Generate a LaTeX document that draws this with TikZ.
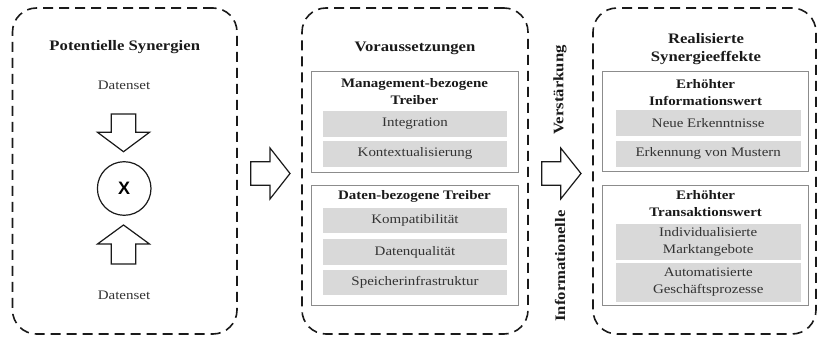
\documentclass[tikz,border=0pt]{standalone}
\usepackage{fontspec}
\setmainfont{Liberation Serif}[FakeStretch=1.15]
\newfontfamily\xfont{Liberation Sans}
\definecolor{itemgray}{HTML}{D9D9D9}
\definecolor{boxgray}{HTML}{8C8C8C}
\definecolor{txtgray}{HTML}{333333}
\definecolor{ttlblack}{HTML}{1A1A1A}
\begin{document}
\begin{tikzpicture}[x=1pt,y=-1pt,
  panel/.style={draw=ttlblack, line width=1.6pt, dash pattern=on 10pt off 6pt, rounded corners=24pt, inner sep=0pt},
  group/.style={draw=boxgray, line width=1pt, inner sep=0pt},
  item/.style={fill=itemgray, inner sep=0pt, text=txtgray, align=center, font=\fontsize{13}{17}\selectfont},
  ttl/.style={text=ttlblack, align=center, inner sep=0pt, font=\fontsize{14.5}{18}\selectfont\bfseries},
  gttl/.style={text=ttlblack, align=center, inner sep=0pt, font=\fontsize{13}{17}\selectfont\bfseries},
  txt/.style={text=txtgray, inner sep=0pt, font=\fontsize{13}{17}\selectfont},
  bigarrow/.style={draw=ttlblack, line width=1.2pt, fill=white, line join=miter},
  rot/.style={text=ttlblack, inner sep=0pt, rotate=90, font=\fontsize{14.5}{18}\selectfont\bfseries}
]
\useasboundingbox (0,0) rectangle (818,339);

% panels
\node[panel, minimum width=224.5pt, minimum height=326pt] (p1) at (124.75,171) {};
\node[panel, minimum width=226pt, minimum height=326pt] (p2) at (415,171) {};
\node[panel, minimum width=223pt, minimum height=326pt] (p3) at (704.5,171) {};

% left panel
\node[ttl] (t1) at (124.75,47) {Potentielle Synergien};
\node[txt] (d1) at (124,85) {Datenset};
\node[txt] (d2) at (124,295) {Datenset};
\node[draw=ttlblack, line width=1.2pt, circle, minimum size=53.6pt, inner sep=0pt] (x) at (124.2,188.5) {\fontsize{18}{18}\xfont\bfseries X};

% down arrow
\coordinate (da) at (123.5,114);
\draw[bigarrow] (da) ++(-12.2,0) -- ++(24.4,0) -- ++(0,18.3) -- ++(13.8,0) -- ++(-26,19.4) -- ++(-26,-19.4) -- ++(13.8,0) -- cycle;
% up arrow
\coordinate (ua) at (123.5,264);
\draw[bigarrow] (ua) ++(-12.2,0) -- ++(24.4,0) -- ++(0,-20) -- ++(13.8,0) -- ++(-26,-19) -- ++(-26,19) -- ++(13.8,0) -- cycle;

% right arrows
\coordinate (a1) at (250.7,173.5);
\draw[bigarrow] (a1) ++(0,-11.7) -- ++(19.3,0) -- ++(0,-13.8) -- ++(20,25.5) -- ++(-20,25.5) -- ++(0,-13.8) -- ++(-19.3,0) -- cycle;
\coordinate (a2) at (541.7,173.5);
\draw[bigarrow] (a2) ++(0,-11.7) -- ++(19,0) -- ++(0,-13.8) -- ++(20.3,25.5) -- ++(-20.3,25.5) -- ++(0,-13.8) -- ++(-19,0) -- cycle;

% middle panel
\node[ttl] (t2) at (415,48) {Voraussetzungen};
\node[group, minimum width=207pt, minimum height=100.5pt] (g1) at (414.5,121.75) {};
\node[gttl] (g1t) at (414.5,92) {Management-bezogene\\Treiber};
\node[item, minimum width=184pt, minimum height=26pt] (i1) at (415,123.7) {Integration};
\node[item, minimum width=184pt, minimum height=26pt] (i2) at (415,153.8) {Kontextualisierung};
\node[group, minimum width=207pt, minimum height=120pt] (g2) at (414.5,245) {};
\node[gttl] (g2t) at (414.5,196.7) {Daten-bezogene Treiber};
\node[item, minimum width=184pt, minimum height=25pt] (i3) at (415,220.8) {Kompatibilität};
\node[item, minimum width=184pt, minimum height=25.7pt] (i4) at (415,252.1) {Datenqualität};
\node[item, minimum width=184pt, minimum height=25pt] (i5) at (415,282.5) {Speicherinfrastruktur};

% rotated labels
\node[rot] (v1) at (560,90) {Verstärkung};
\node[rot] (v2) at (560,266) {Informationelle};

% right panel
\node[ttl] (t3) at (706,49) {Realisierte\\Synergieeffekte};
\node[group, minimum width=206.7pt, minimum height=99.5pt] (g3) at (705.6,121.25) {};
\node[gttl] (g3t) at (705.6,92.8) {Erhöhter\\Informationswert};
\node[item, minimum width=185pt, minimum height=26pt] (j1) at (708.2,123) {Neue Erkenntnisse};
\node[item, minimum width=185pt, minimum height=25.7pt] (j2) at (708.2,153.8) {Erkennung von Mustern};
\node[group, minimum width=206.7pt, minimum height=120pt] (g4) at (705.6,245) {};
\node[gttl] (g4t) at (705.6,203.7) {Erhöhter\\Transaktionswert};
\node[item, minimum width=185pt, minimum height=36pt] (j3) at (708.2,242) {Individualisierte\\Marktangebote};
\node[item, minimum width=185pt, minimum height=38.4pt] (j4) at (708.2,282.5) {Automatisierte\\Geschäftsprozesse};
\end{tikzpicture}
\end{document}
